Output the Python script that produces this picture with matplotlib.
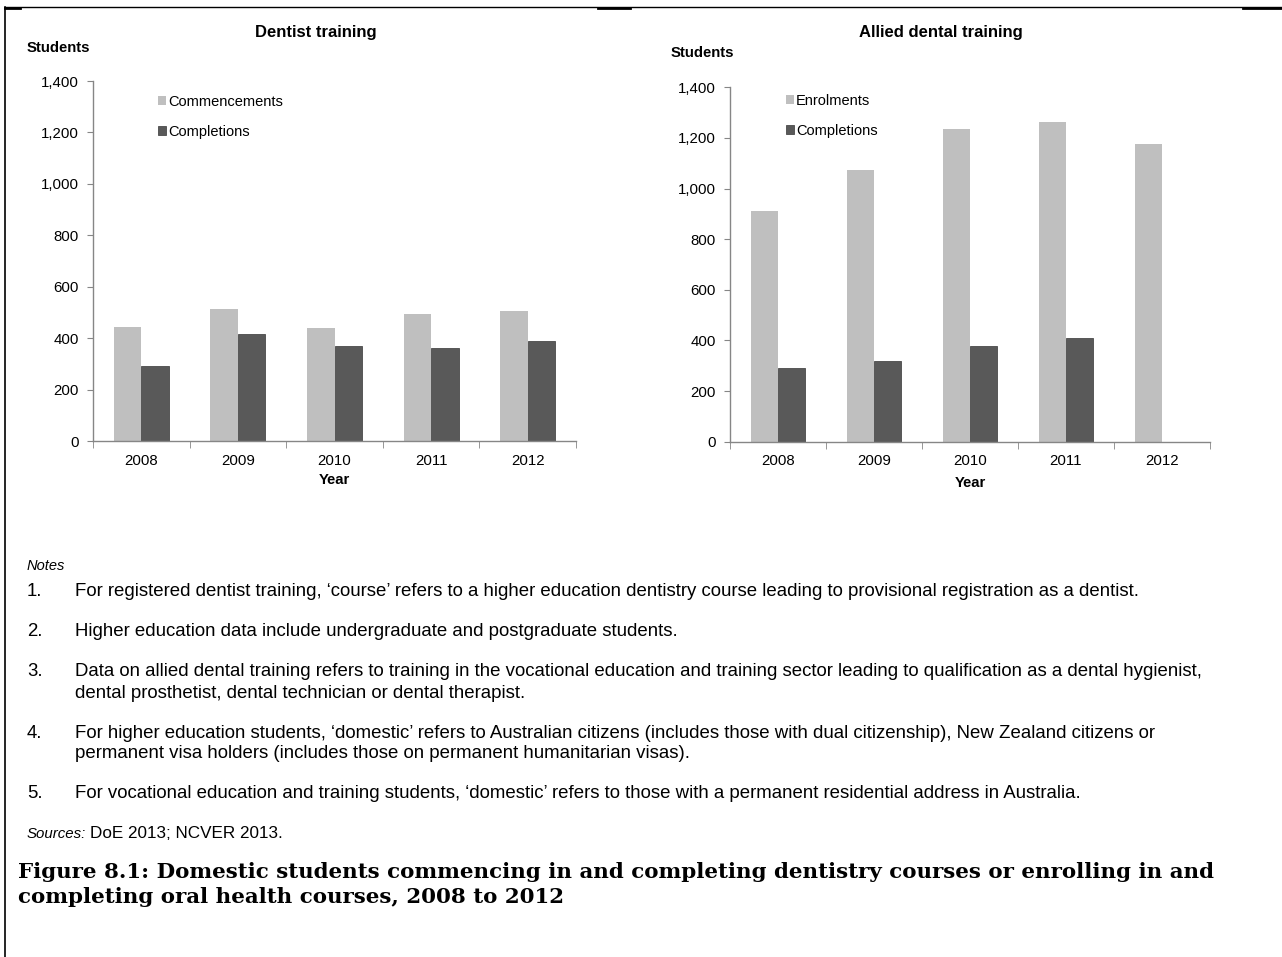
import matplotlib
matplotlib.use("Agg")
import matplotlib.pyplot as plt
from matplotlib.lines import Line2D
import numpy as np

years = ["2008", "2009", "2010", "2011", "2012"]
dentist_commencements = [444, 515, 440, 495, 506]
dentist_completions = [293, 417, 369, 362, 388]
allied_enrolments = [911, 1073, 1237, 1263, 1176]
allied_completions = [291, 319, 377, 411, 0]

notes = [
    ("1.", ["For registered dentist training, \u2018course\u2019 refers to a higher education dentistry course leading to provisional registration as a dentist."]),
    ("2.", ["Higher education data include undergraduate and postgraduate students."]),
    ("3.", ["Data on allied dental training refers to training in the vocational education and training sector leading to qualification as a dental hygienist,",
            "dental prosthetist, dental technician or dental therapist."]),
    ("4.", ["For higher education students, \u2018domestic\u2019 refers to Australian citizens (includes those with dual citizenship), New Zealand citizens or",
            "permanent visa holders (includes those on permanent humanitarian visas)."]),
    ("5.", ["For vocational education and training students, \u2018domestic\u2019 refers to those with a permanent residential address in Australia."]),
]
caption = ["Figure 8.1: Domestic students commencing in and completing dentistry courses or enrolling in and",
           "completing oral health courses, 2008 to 2012"]

W, H = 1282, 957
LIGHT = "#bfbfbf"
DARK = "#595959"
AXIS = "#868686"
NOTE_FS = 13.4

plt.rcParams["font.family"] = "Liberation Sans"


def fx(px):
    return px / W


def fy(py):
    return 1 - py / H


def make_axes(fig, x0, x1, ytop, ybot):
    return fig.add_axes([fx(x0), fy(ybot), (x1 - x0) / W, (ybot - ytop) / H])


def bar_chart(fig, ax, light, dark, labels, title, title_x, stud_xy, year_y, leg_xy):
    x = np.arange(len(years))
    w = 0.285
    b1 = ax.bar(x - w / 2, light, width=w, color=LIGHT, label=labels[0], zorder=2)
    b2 = ax.bar(x + w / 2, dark, width=w, color=DARK, edgecolor="#4a4a4a", linewidth=0.6,
                label=labels[1], zorder=2)
    ax.set_xlim(-0.5, len(years) - 0.5)
    ax.set_ylim(0, 1400)
    ax.set_yticks(range(0, 1401, 200))
    ax.set_yticklabels([f"{v:,}" for v in range(0, 1401, 200)])
    ax.set_xticks(x)
    ax.set_xticklabels(years)
    ax.set_xticks(np.arange(-0.5, len(years)), minor=True)
    ax.tick_params(axis="x", which="major", length=0, pad=9, labelsize=10.8)
    ax.tick_params(axis="x", which="minor", length=5, color=AXIS, direction="out")
    ax.tick_params(axis="y", length=4, color=AXIS, pad=6, labelsize=10.8)
    for s in ["top", "right"]:
        ax.spines[s].set_visible(False)
    for s in ["left", "bottom"]:
        ax.spines[s].set_color(AXIS)
        ax.spines[s].set_linewidth(1)

    fig.text(fx(title_x), fy(32), title, ha="center", va="center", fontsize=12, fontweight="bold")
    fig.text(fx(stud_xy[0]), fy(stud_xy[1]), "Students", ha="left", va="center", fontsize=10.7, fontweight="bold")
    x_mid = (ax.get_position().x0 + ax.get_position().x1) / 2
    fig.text(x_mid, fy(year_y), "Year", ha="center", va="center", fontsize=10.7, fontweight="bold")

    ax.legend(handles=[b1, b2], loc="upper left", bbox_to_anchor=(fx(leg_xy[0]), fy(leg_xy[1])),
              bbox_transform=fig.transFigure, frameon=False, fontsize=10.5,
              handlelength=0.55, handleheight=0.55, handletextpad=0.15, labelspacing=1.1,
              borderpad=0, borderaxespad=0)


fig = plt.figure(figsize=(W / 100, H / 100), dpi=100)

ax1 = make_axes(fig, 93, 576, 81, 441)
bar_chart(fig, ax1, dentist_commencements, dentist_completions, ["Commencements", "Completions"],
          "Dentist training", 316, (27, 48), 480, (158, 95))

ax2 = make_axes(fig, 730, 1210, 87.3, 441.7)
bar_chart(fig, ax2, allied_enrolments, allied_completions, ["Enrolments", "Completions"],
          "Allied dental training", 941, (671, 53), 483, (786, 94))

# notes
fig.text(fx(27), fy(566), "Notes", style="italic", fontsize=10.5, va="center", ha="left")
note_y = [591, 631, 672, 733, 794]
for (num, lines), y in zip(notes, note_y):
    fig.text(fx(27), fy(y), num, fontsize=NOTE_FS, va="center", ha="left")
    for i, line in enumerate(lines):
        fig.text(fx(75), fy(y + 21 * i), line, fontsize=NOTE_FS, va="center", ha="left")

t = fig.text(fx(27), fy(834), "Sources:", style="italic", fontsize=10.8, va="center", ha="left")
fig.canvas.draw()
bb = t.get_window_extent()
fig.text(bb.x1 / W + 0.003, fy(834), "DoE 2013; NCVER 2013.", fontsize=12.3, va="center", ha="left")

for i, line in enumerate(caption):
    fig.text(fx(18), fy(872 + 25 * i), line, family="DejaVu Serif", fontweight="bold",
             fontsize=15.4, va="center", ha="left")

# page frame
fig.add_artist(Line2D([fx(5), 1], [fy(7), fy(7)], color="black", lw=1))
fig.add_artist(Line2D([fx(5), fx(5)], [fy(7), 0], color="black", lw=1.2))
for a, b in [(5, 20), (598, 630), (1243, 1282)]:
    fig.add_artist(Line2D([fx(a), fx(b)], [fy(7.5), fy(7.5)], color="black", lw=2))

fig.savefig("out.png", dpi=100)
